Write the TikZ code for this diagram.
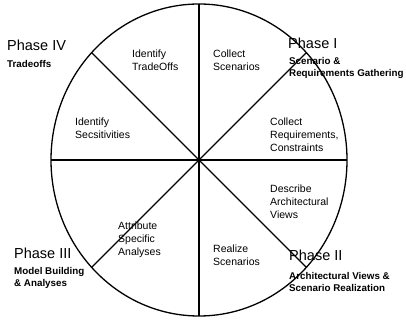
\documentclass[tikz,border=0pt]{standalone}
\usepackage{fontspec}
\setmainfont{Liberation Sans}
\begin{document}
\begin{tikzpicture}[x=1pt,y=1pt,
  rim/.style={line width=1.3pt},
  spoke/.style={line width=1.2pt},
  inner/.style={anchor=north west,inner sep=0pt,align=left,font=\fontsize{10.5}{13}\selectfont},
  phase/.style={anchor=north west,inner sep=0pt,font=\fontsize{14.5}{16}\selectfont},
  sub/.style={anchor=north west,inner sep=0pt,align=left,font=\fontsize{9.8}{11.8}\selectfont\bfseries}]
\useasboundingbox (0,0) rectangle (406,320);
\fill[white] (0,0) rectangle (406,320);
\coordinate (c) at (199,160);
\draw[rim] (c) ellipse [x radius=148, y radius=156];
\coordinate (n) at (199,316);
\coordinate (s) at (199,4);
\coordinate (w) at (51,160);
\coordinate (e) at (347,160);
\coordinate (ne) at (306.4,267.4);
\coordinate (sw) at (91.6,52.6);
\coordinate (nw) at (91.6,267.4);
\coordinate (se) at (306.4,52.6);
\draw[spoke] (n) -- (s);
\draw[spoke] (w) -- (e);
\draw[spoke] (ne) -- (sw);
\draw[spoke] (nw) -- (se);
\node[inner] (idto) at (132,270) {Identify\\TradeOffs};
\node[inner] (idse) at (75,202) {Identify\\Secsitivities};
\node[inner] (colsc) at (213,270) {Collect\\Scenarios};
\node[inner] (colrq) at (270,202) {Collect\\Requirements,\\Constraints};
\node[inner] (desc) at (270,135) {Describe\\Architectural\\Views};
\node[inner] (real) at (213,75) {Realize\\Scenarios};
\node[inner] (attr) at (118,98) {Attribute\\Specific\\Analyses};
\node[phase] (p4) at (7,280) {Phase IV};
\node[sub] (s4) at (7,260) {Tradeoffs};
\node[phase] (p1) at (288,282) {Phase I};
\node[sub] (s1) at (289,263) {Scenario \&\\Requirements Gathering};
\node[phase] (p2) at (289,70) {Phase II};
\node[sub] (s2) at (289,48) {Architectural Views \&\\Scenario Realization};
\node[phase] (p3) at (14,72) {Phase III};
\node[sub] (s3) at (14,53) {Model Building\\\& Analyses};
\end{tikzpicture}
\end{document}
